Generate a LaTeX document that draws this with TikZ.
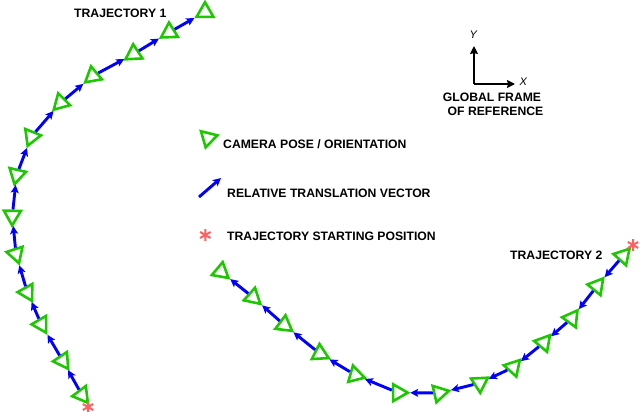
\documentclass[tikz,border=0pt]{standalone}
\usepackage{fontspec}
\setmainfont{Liberation Sans}
\usetikzlibrary{shapes.geometric,arrows.meta}
\definecolor{camgreen}{RGB}{30,200,0}
\definecolor{vecblue}{RGB}{0,0,255}
\definecolor{startred}{RGB}{255,95,95}
\begin{document}
\begin{tikzpicture}[x=1pt,y=-1pt,
  cam/.style={regular polygon, regular polygon sides=3, draw=camgreen, line width=2.6pt,
    minimum size=19.5pt, inner sep=0pt, rotate=#1},
  vec/.style={draw=vecblue, line width=2.9pt, -{Stealth[length=8pt,width=8pt,inset=1.8pt]}},
  axis/.style={draw=black, line width=2.3pt, -{Stealth[length=8pt,width=8pt,inset=1pt]}},
  lbl/.style={font=\fontsize{12.2}{14}\selectfont\bfseries, inner sep=0pt},
  axlbl/.style={font=\fontsize{11}{13}\selectfont\itshape, inner sep=0pt},
  ast/.pic={\draw[startred, line width=2pt] (0,-6)--(0,6) (-5.2,-3)--(5.2,3) (-5.2,3)--(5.2,-3);}
]
\useasboundingbox (0,0) rectangle (640,412);

% Trajectory 1
\node[cam=97] (a1) at (82,395) {};
\node[cam=94] (a2) at (62.7,360.7) {};
\node[cam=90] (a3) at (41.3,324.3) {};
\node[cam=89] (a4) at (27.3,292.3) {};
\node[cam=78] (a5) at (16,254) {};
\node[cam=59] (a6) at (12.3,215.7) {};
\node[cam=47] (a7) at (16.7,174.7) {};
\node[cam=38] (a8) at (31.3,136.7) {};
\node[cam=15] (a9) at (60.7,102.7) {};
\node[cam=10] (a10) at (92.7,76) {};
\node[cam=3] (a11) at (133.7,54) {};
\node[cam=2] (a12) at (169.3,32.3) {};
\node[cam=0] (a13) at (205,12) {};
\foreach \i [evaluate=\i as \j using int(\i+1)] in {1,...,12}
  \draw[vec] (a\i) -- (a\j);
\pic at (88,407) {ast};

% Trajectory 2
\node[cam=78] (b1) at (623,256) {};
\node[cam=81] (b2) at (597,286) {};
\node[cam=84] (b3) at (571.7,318.3) {};
\node[cam=80] (b4) at (543.7,342.7) {};
\node[cam=78] (b5) at (513.3,367.3) {};
\node[cam=63] (b6) at (479.7,383) {};
\node[cam=43] (b7) at (439.3,393) {};
\node[cam=30] (b8) at (398,392.7) {};
\node[cam=14] (b9) at (355.3,375) {};
\node[cam=3] (b10) at (320,353.7) {};
\node[cam=-7] (b11) at (284.3,325) {};
\node[cam=-12] (b12) at (253,297.3) {};
\node[cam=-10] (b13) at (221,271.7) {};
\foreach \i [evaluate=\i as \j using int(\i+1)] in {1,...,12}
  \draw[vec] (b\i) -- (b\j);
\pic at (633,245) {ast};

% Labels
\node[lbl, anchor=base west] (t1) at (74,17.3) {TRAJECTORY 1};
\node[lbl, anchor=base west] (t2) at (510,259.3) {TRAJECTORY 2};

% Legend
\node[cam=46] (lc) at (208,138) {};
\node[lbl, anchor=base west] (lct) at (223,148) {CAMERA POSE / ORIENTATION};
\coordinate (lv1) at (199,197);
\coordinate (lv2) at (221,178);
\draw[vec] (lv1) -- (lv2);
\node[lbl, anchor=base west] (lvt) at (227,197) {RELATIVE TRANSLATION VECTOR};
\pic at (205.3,235) {ast};
\node[lbl, anchor=base west] (lst) at (227,240) {TRAJECTORY STARTING POSITION};

% Global frame
\coordinate (o) at (474,84);
\coordinate (oy) at (474,46);
\coordinate (ox) at (515,84);
\draw[axis] (o) -- (oy);
\draw[axis] (o) -- (ox);
\node[axlbl, anchor=base] (ly) at (473.3,39) {Y};
\node[axlbl, anchor=base] (lx) at (523.3,85.5) {X};
\node[lbl, anchor=base] (g1) at (492,101.7) {GLOBAL FRAME};
\node[lbl, anchor=base] (g2) at (495.5,115) {OF REFERENCE};
\end{tikzpicture}
\end{document}
